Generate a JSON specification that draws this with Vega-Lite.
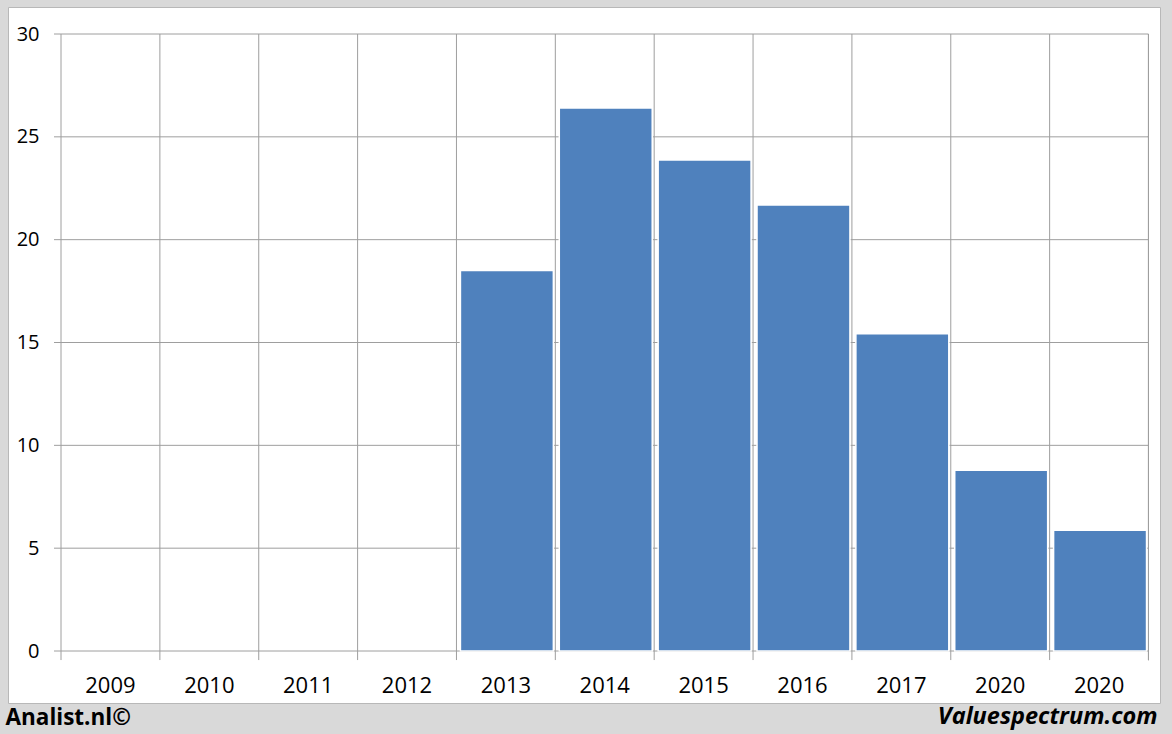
{
  "$schema": "https://vega.github.io/schema/vega-lite/v6.json",
  "width": 1152,
  "height": 696,
  "autosize": {"type": "none"},
  "padding": {"left": 8, "top": 7, "right": 12, "bottom": 31},
  "background": "#d9d9d9",
  "config": {
    "view": {"fill": "white", "stroke": "#b8b8b8", "strokeWidth": 1},
    "font": "Open Sans"
  },
  "data": {
    "values": [
      {"slot": "2009", "value": null},
      {"slot": "2010", "value": null},
      {"slot": "2011", "value": null},
      {"slot": "2012", "value": null},
      {"slot": "2013", "value": 18.5},
      {"slot": "2014", "value": 26.4},
      {"slot": "2015", "value": 23.87},
      {"slot": "2016", "value": 21.68},
      {"slot": "2017", "value": 15.42},
      {"slot": "2020", "value": 8.79},
      {"slot": "2020b", "value": 5.87}
    ]
  },
  "layer": [
    {
      "data": {"values": [{"tick": 0}, {"tick": 5}, {"tick": 10}, {"tick": 15}, {"tick": 20}, {"tick": 25}, {"tick": 30}]},
      "mark": {"type": "rule", "color": "#9e9e9e", "strokeWidth": 1, "xOffset": -7},
      "encoding": {
        "y": {"field": "tick", "type": "quantitative"},
        "x": {"datum": "2009", "type": "ordinal", "bandPosition": 0},
        "x2": {"datum": "2020b", "bandPosition": 1}
      }
    },
    {
      "mark": {"type": "rule", "color": "#9e9e9e", "strokeWidth": 1},
      "encoding": {
        "x": {"field": "slot", "type": "ordinal", "bandPosition": 0},
        "y": {"datum": 30, "type": "quantitative"},
        "y2": {"datum": -0.44}
      }
    },
    {
      "mark": {"type": "rule", "color": "#9e9e9e", "strokeWidth": 1},
      "encoding": {
        "x": {"datum": "2020b", "type": "ordinal", "bandPosition": 1},
        "y": {"datum": 30, "type": "quantitative"},
        "y2": {"datum": -0.44}
      }
    },
    {
      "mark": {"type": "bar", "width": {"band": 0.94}, "color": "#4f81bd", "stroke": "white", "strokeWidth": 1.5, "xOffset": 1},
      "encoding": {
        "x": {
          "field": "slot",
          "type": "ordinal",
          "scale": {
            "domain": ["2009", "2010", "2011", "2012", "2013", "2014", "2015", "2016", "2017", "2020", "2020b"],
            "paddingInner": 0,
            "paddingOuter": 0.3263,
            "align": 0.8217
          },
          "axis": {
            "orient": "bottom",
            "offset": -52,
            "bandPosition": 0.5,
            "domain": false,
            "ticks": false,
            "grid": false,
            "labelAngle": 0,
            "labelAlign": "center",
            "labelExpr": "slice(datum.label, 0, 4)",
            "labelFont": "Open Sans",
            "labelFontSize": 22,
            "labelColor": "black",
            "labelBaseline": "alphabetic",
            "labelPadding": 41,
            "title": "Valuespectrum.com",
            "titleX": 1149,
            "titleY": 72,
            "titleAlign": "right",
            "titleBaseline": "alphabetic",
            "titleFont": "Open Sans",
            "titleFontSize": 23.5,
            "titleFontWeight": "bold",
            "titleFontStyle": "italic",
            "titleColor": "black"
          }
        },
        "y": {
          "field": "value",
          "type": "quantitative",
          "scale": {"domain": [-2.528, 31.313], "nice": false, "zero": false},
          "axis": {
            "orient": "left",
            "offset": -53,
            "values": [0, 5, 10, 15, 20, 25, 30],
            "domain": false,
            "ticks": false,
            "grid": false,
            "labelPadding": 22,
            "labelFont": "Open Sans",
            "labelFontSize": 20,
            "labelColor": "black",
            "title": "Analist.nl©",
            "titleAngle": 0,
            "titleX": -56,
            "titleY": 717,
            "titleAlign": "left",
            "titleBaseline": "alphabetic",
            "titleFont": "Open Sans",
            "titleFontSize": 22.5,
            "titleFontWeight": "bold",
            "titleColor": "black"
          }
        },
        "y2": {"datum": 0}
      }
    }
  ]
}
